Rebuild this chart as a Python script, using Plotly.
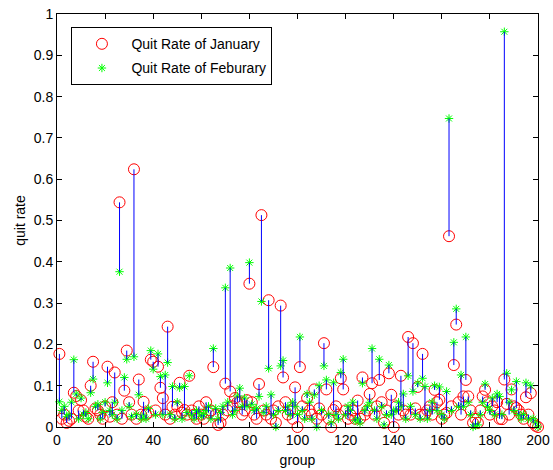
import plotly.graph_objects as go

groups = list(range(1, 201))

jan_rate = [
    .177, .020, .030, .010, .015, .020, .083, .075, .040, .065,
    .040, .025, .020, .100, .158, .045, .040, .030, .020, .050,
    .146, .025, .060, .132, .030, .544, .020, .088, .185, .060,
    .030, .624, .020, .115, .030, .061, .030, .035, .163, .158,
    .040, .146, .095, .070, .030, .243, .020, .049, .030, .050,
    .107, .035, .041, .030, .124, .040, .030, .020, .050, .030,
    .020, .060, .035, .040, .145, .030, .005, .010, .030, .105,
    .040, .086, .050, .070, .060, .060, .030, .040, .065, .347,
    .060, .030, .020, .104, .513, .040, .030, .307, .020, .040,
    .010, .050, .294, .120, .060, .030, .040, .020, .096, .000,
    .145, .050, .030, .070, .040, .030, .091, .020, .045, .030,
    .203, .091, .020, .000, .041, .050, .030, .118, .091, .040,
    .020, .030, .040, .020, .064, .020, .120, .030, .040, .080,
    .106, .030, .050, .114, .060, .010, .040, .130, .078, .000,
    .050, .030, .124, .040, .030, .218, .030, .203, .045, .097,
    .030, .177, .030, .040, .050, .030, .090, .060, .066, .020,
    .030, .034, .462, .050, .150, .248, .060, .030, .074, .114,
    .074, .040, .010, .020, .010, .040, .074, .090, .060, .030,
    .050, .040, .060, .020, .019, .115, .056, .030, .091, .050,
    .046, .040, .030, .020, .072, .030, .082, .010, .003, .000,
]

feb_rate = [
    .061, .040, .050, .025, .030, .060, .163, .080, .020, .070,
    .030, .035, .020, .083, .116, .050, .055, .020, .035, .060,
    .107, .040, .030, .060, .020, .376, .040, .120, .164, .050,
    .025, .170, .030, .078, .020, .029, .020, .045, .185, .140,
    .030, .177, .122, .030, .126, .156, .030, .098, .020, .060,
    .095, .020, .098, .035, .124, .030, .020, .040, .035, .025,
    .030, .040, .050, .020, .190, .045, .020, .035, .050, .337,
    .060, .385, .030, .040, .075, .094, .050, .070, .050, .398,
    .055, .040, .045, .074, .304, .035, .050, .142, .078, .030,
    .000, .040, .148, .161, .040, .050, .030, .060, .050, .030,
    .218, .040, .020, .080, .060, .020, .078, .000, .100, .040,
    .148, .114, .030, .010, .107, .030, .020, .132, .164, .030,
    .050, .040, .060, .015, .020, .010, .106, .040, .050, .060,
    .190, .040, .020, .164, .050, .005, .030, .150, .030, .040,
    .040, .060, .050, .080, .020, .124, .050, .086, .030, .106,
    .020, .118, .098, .020, .040, .060, .100, .040, .097, .030,
    .020, .086, .747, .040, .205, .286, .050, .126, .050, .218,
    .060, .030, .000, .005, .005, .030, .060, .104, .050, .040,
    .070, .030, .080, .074, .030, .957, .130, .060, .090, .040,
    .110, .030, .020, .030, .107, .020, .100, .020, .010, .000,
]

x_ticks = list(range(0, 201, 20))
y_ticks = [round(0.1 * i, 1) for i in range(11)]
y_tick_labels = ["0", "0.1", "0.2", "0.3", "0.4", "0.5", "0.6", "0.7", "0.8", "0.9", "1"]

# vertical connectors between January and February values
line_x, line_y = [], []
for g, j, f in zip(groups, jan_rate, feb_rate):
    line_x += [g, g, None]
    line_y += [j, f, None]

fig = go.Figure()
fig.add_trace(go.Scatter(
    x=groups, y=jan_rate, mode="markers", name="Quit Rate of January",
    legendgroup="jan",
    marker=dict(symbol="circle-open", size=11, color="#ff0000", line=dict(width=1, color="#ff0000")),
    cliponaxis=False,
))
fig.add_trace(go.Scatter(
    x=groups, y=feb_rate, mode="markers", name="Quit Rate of Feburary",
    legendgroup="feb",
    marker=dict(symbol="asterisk-open", size=7, color="#00ff00", line=dict(width=1, color="#00ff00")),
    cliponaxis=False,
))
fig.add_trace(go.Scatter(
    x=line_x, y=line_y, mode="lines", showlegend=False,
    line=dict(color="#0000ff", width=1), hoverinfo="skip",
))

FONT = "Liberation Sans, Arial, sans-serif"
axis_common = dict(
    showline=True, linecolor="black", linewidth=1, mirror="ticks",
    ticks="inside", ticklen=5, tickcolor="black", showgrid=False, zeroline=False,
    automargin=False, ticklabelstandoff=0, ticklabeloverflow="allow",
    tickfont=dict(family=FONT, size=14, color="black"),
)

fig.update_layout(
    width=553, height=470,
    margin=dict(l=57, r=15, t=14, b=43),
    paper_bgcolor="white", plot_bgcolor="white",
    font=dict(family=FONT, size=14, color="black"),
    xaxis=dict(range=[0, 200], tickvals=x_ticks,
               title=dict(text="group", standoff=8, font=dict(size=14)), **axis_common),
    yaxis=dict(range=[0, 1], tickvals=y_ticks, ticktext=y_tick_labels,
               title=dict(text="quit rate", standoff=4, font=dict(size=14)), **axis_common),
    legend=dict(x=0.03, y=0.968, xanchor="left", yanchor="top",
                bordercolor="black", borderwidth=1, bgcolor="white",
                itemwidth=49, font=dict(size=14), tracegroupgap=3),
    showlegend=True,
)

# remove the page's default body margin so the figure fills the window exactly
fig.write_html("out.html", config={"displayModeBar": False},
               post_script="document.body.style.margin='0';")
